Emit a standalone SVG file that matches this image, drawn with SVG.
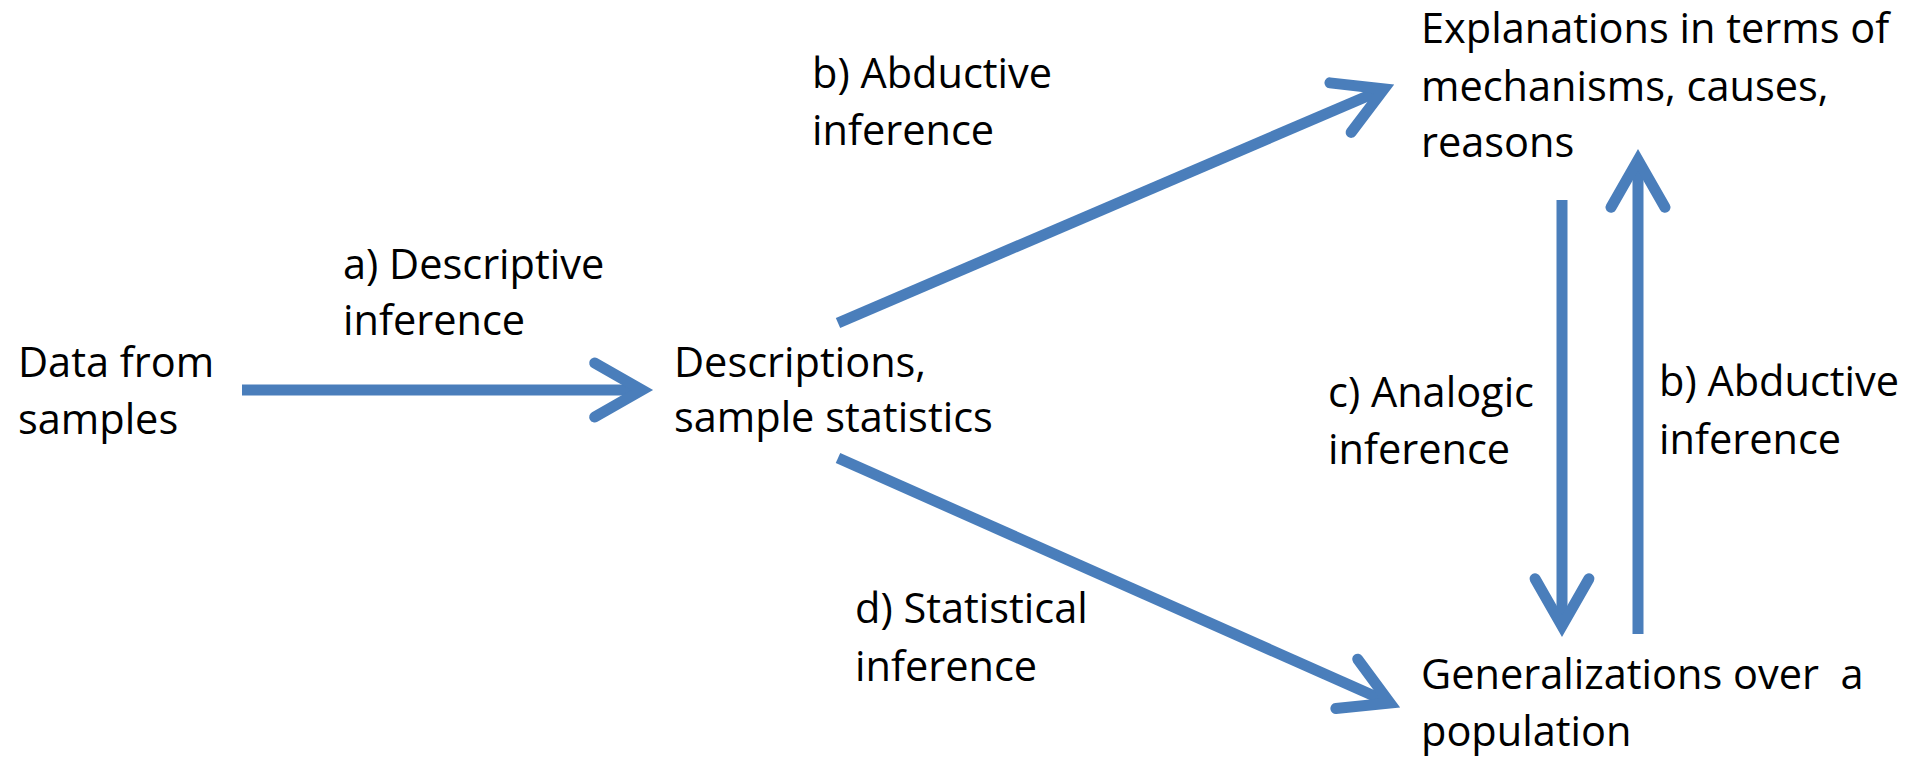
<svg xmlns="http://www.w3.org/2000/svg" width="1924" height="758" viewBox="0 0 1924 758">
<style>
text{font-family:"Open Sans","Noto Sans","Liberation Sans",sans-serif;font-size:41.5px;fill:#000}
.arr{stroke:#4A7EBB;stroke-width:11;fill:none;marker-end:url(#head)}
</style>
<defs>
<marker id="head" markerUnits="strokeWidth" viewBox="-6 -4 8 8" refX="0" refY="0" markerWidth="8" markerHeight="8" orient="auto" overflow="visible">
<path d="M-4.3,-2.45 L0,0 L-4.3,2.45" fill="none" stroke="#4A7EBB" stroke-width="1" stroke-linecap="round" stroke-linejoin="miter"/>
</marker>
</defs>
<rect width="1924" height="758" fill="#fff"/>
<g id="connectors">
<line id="a-desc" class="arr" x1="242" y1="390" x2="642" y2="390"/>
<line id="b-abd1" class="arr" x1="838" y1="323" x2="1384" y2="89"/>
<line id="d-stat" class="arr" x1="838" y1="458" x2="1390" y2="703"/>
<line id="c-anal" class="arr" x1="1562" y1="200" x2="1562" y2="626"/>
<line id="b-abd2" class="arr" x1="1638" y1="634" x2="1638" y2="160"/>
</g>
<g id="data"><text x="18" y="377">Data from</text><text x="18" y="434">samples</text></g>
<g id="descriptions"><text x="674" y="377">Descriptions,</text><text x="674" y="432">sample statistics</text></g>
<g id="explanations"><text x="1421" y="43">Explanations in terms of</text><text x="1421" y="101">mechanisms, causes,</text><text x="1421" y="157">reasons</text></g>
<g id="generalizations"><text x="1421" y="689" xml:space="preserve">Generalizations over  a</text><text x="1421" y="746">population</text></g>
<g id="labels">
<text x="343" y="279">a) Descriptive</text><text x="343" y="335">inference</text>
<text x="812" y="88">b) Abductive</text><text x="812" y="145">inference</text>
<text x="1328" y="407">c) Analogic</text><text x="1328" y="464">inference</text>
<text x="1659" y="396">b) Abductive</text><text x="1659" y="454">inference</text>
<text x="855" y="623">d) Statistical</text><text x="855" y="681">inference</text>
</g>
</svg>
